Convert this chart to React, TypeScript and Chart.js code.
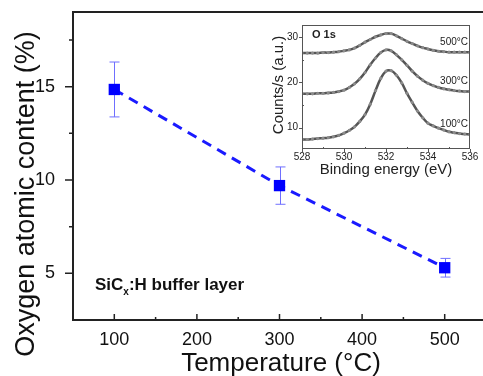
import React, { useEffect, useRef } from "react";
import { Chart, registerables } from "chart.js";

Chart.register(...registerables);

// Main plot data
const TEMPS = [100, 300, 500];
const OXYGEN = [14.85, 9.7, 5.3];
const OXYGEN_ERR = [1.47, 1.0, 0.5];
const X_TICKS = [100, 200, 300, 400, 500];
const X_MINOR = [150, 250, 350, 450];
const Y_TICKS = [5, 10, 15];
const Y_MINOR = [7.5, 12.5, 17.5];

// Inset (O 1s XPS) data
const BE = [528, 528.25, 528.5, 528.75, 529, 529.25, 529.5, 529.75, 530, 530.25, 530.5, 530.75, 531, 531.25, 531.5, 531.75, 532, 532.25, 532.5, 532.75, 533, 533.25, 533.5, 533.75, 534, 534.25, 534.5, 534.75, 535, 535.25, 535.5, 535.75, 536];
const C100 = [7.4, 7.4, 7.5, 7.6, 7.7, 7.8, 8.0, 8.3, 8.8, 9.4, 10.2, 11.4, 12.9, 15.2, 18.2, 20.9, 22.5, 22.6, 21.6, 19.9, 17.6, 15.6, 13.7, 12.2, 11.0, 10.4, 9.9, 9.5, 9.1, 8.9, 8.7, 8.6, 8.5];
const C300 = [17.5, 17.5, 17.5, 17.6, 17.6, 17.7, 17.8, 18.0, 18.3, 18.9, 19.7, 20.8, 22.2, 23.9, 25.4, 26.6, 27.2, 27.0, 26.1, 25.0, 23.8, 22.5, 21.4, 20.5, 19.8, 19.3, 18.9, 18.6, 18.4, 18.2, 18.1, 18.0, 18.0];
const C500 = [26.5, 26.5, 26.5, 26.5, 26.6, 26.6, 26.7, 26.8, 27.0, 27.2, 27.6, 28.2, 28.9, 29.5, 30.1, 30.5, 30.8, 30.8, 30.3, 29.7, 29.1, 28.6, 28.1, 27.7, 27.4, 27.1, 26.9, 26.8, 26.7, 26.7, 26.7, 26.7, 26.7];
const INSET_X_TICKS = [528, 530, 532, 534, 536];
const INSET_X_MINOR = [529, 531, 533, 535];
const INSET_Y_TICKS = [10, 20, 30];
const INSET_Y_MINOR = [15, 25];
const INSET_LABELS = ["100°C", "300°C", "500°C"];

const FONT = "'Liberation Sans', Arial, Helvetica, sans-serif";

const fixSize = (w: number | null, h: number | null) => (s: any) => {
  if (w !== null) s.width = w;
  if (h !== null) s.height = h;
  s.paddingTop = 0;
  s.paddingBottom = 0;
  s.paddingLeft = 0;
  s.paddingRight = 0;
};

const mainPlugin = {
  id: "mainDecor",
  beforeDatasetsDraw(chart: any) {
    const { ctx, scales } = chart;
    const xs = scales.x, ys = scales.y;
    ctx.save();
    ctx.strokeStyle = "#6f6fff";
    ctx.lineWidth = 1;
    TEMPS.forEach((t, i) => {
      const x = Math.round(xs.getPixelForValue(t)) + 0.5;
      const y1 = ys.getPixelForValue(OXYGEN[i] + OXYGEN_ERR[i]);
      const y2 = ys.getPixelForValue(OXYGEN[i] - OXYGEN_ERR[i]);
      ctx.beginPath();
      ctx.moveTo(x, y1);
      ctx.lineTo(x, y2);
      ctx.moveTo(x - 5, y1);
      ctx.lineTo(x + 5, y1);
      ctx.moveTo(x - 5, y2);
      ctx.lineTo(x + 5, y2);
      ctx.stroke();
    });
    ctx.restore();
  },
  afterDraw(chart: any) {
    const { ctx, scales, chartArea } = chart;
    const xs = scales.x, ys = scales.y;
    const { left, right, top, bottom } = chartArea;
    ctx.save();
    ctx.strokeStyle = "#222";
    ctx.lineWidth = 2;
    ctx.beginPath();
    ctx.moveTo(left, top);
    ctx.lineTo(right, top);
    ctx.lineTo(right, bottom);
    ctx.lineTo(left, bottom);
    ctx.closePath();
    ctx.stroke();
    ctx.lineWidth = 1.5;
    ctx.beginPath();
    Y_TICKS.forEach((v) => {
      const y = ys.getPixelForValue(v);
      ctx.moveTo(left - 8, y);
      ctx.lineTo(left, y);
    });
    Y_MINOR.forEach((v) => {
      const y = ys.getPixelForValue(v);
      ctx.moveTo(left - 4, y);
      ctx.lineTo(left, y);
    });
    X_TICKS.forEach((v) => {
      const x = xs.getPixelForValue(v);
      ctx.moveTo(x, bottom);
      ctx.lineTo(x, bottom - 6);
    });
    X_MINOR.forEach((v) => {
      const x = xs.getPixelForValue(v);
      ctx.moveTo(x, bottom);
      ctx.lineTo(x, bottom - 3);
    });
    ctx.stroke();

    ctx.fillStyle = "#111";
    ctx.textAlign = "center";
    ctx.textBaseline = "middle";
    ctx.font = `26px ${FONT}`;
    ctx.fillText("Temperature (°C)", 281, 364);
    ctx.save();
    ctx.translate(27, 194);
    ctx.rotate(-Math.PI / 2);
    ctx.font = `27px ${FONT}`;
    ctx.fillText("Oxygen atomic content (%)", 0, 0);
    ctx.restore();

    // annotation
    ctx.textAlign = "left";
    ctx.textBaseline = "alphabetic";
    ctx.font = `bold 17px ${FONT}`;
    let x = 95;
    const base = 290;
    ctx.fillText("SiC", x, base);
    x += ctx.measureText("SiC").width;
    ctx.font = `bold 10px ${FONT}`;
    ctx.fillText("x", x, base + 5);
    x += ctx.measureText("x").width;
    ctx.font = `bold 17px ${FONT}`;
    ctx.fillText(":H buffer layer", x, base);
    ctx.restore();
  },
};

const insetPlugin = {
  id: "insetDecor",
  afterDraw(chart: any) {
    const { ctx, scales, chartArea } = chart;
    const xs = scales.x, ys = scales.y;
    const { left, right, top, bottom } = chartArea;
    ctx.save();
    ctx.strokeStyle = "#555";
    ctx.lineWidth = 1;
    ctx.strokeRect(left + 0.5, top + 0.5, right - left - 1, bottom - top - 1);
    ctx.beginPath();
    INSET_Y_TICKS.forEach((v) => {
      const y = Math.round(ys.getPixelForValue(v)) + 0.5;
      ctx.moveTo(left - 3, y);
      ctx.lineTo(left, y);
    });
    INSET_Y_MINOR.forEach((v) => {
      const y = Math.round(ys.getPixelForValue(v)) + 0.5;
      ctx.moveTo(left, y);
      ctx.lineTo(left + 2, y);
    });
    INSET_X_TICKS.forEach((v) => {
      const x = Math.round(xs.getPixelForValue(v)) + 0.5;
      ctx.moveTo(x, bottom);
      ctx.lineTo(x, bottom + 3);
    });
    INSET_X_MINOR.forEach((v) => {
      const x = Math.round(xs.getPixelForValue(v)) + 0.5;
      ctx.moveTo(x, bottom);
      ctx.lineTo(x, bottom - 2);
    });
    ctx.stroke();

    ctx.fillStyle = "#222";
    ctx.textBaseline = "middle";
    ctx.textAlign = "center";
    ctx.font = `15px ${FONT}`;
    ctx.fillText("Binding energy (eV)", 136, 155);
    ctx.save();
    ctx.translate(29, 70);
    ctx.rotate(-Math.PI / 2);
    ctx.fillText("Counts/s (a.u.)", 0, 0);
    ctx.restore();

    ctx.textAlign = "left";
    ctx.font = `bold 11px ${FONT}`;
    ctx.fillText("O 1s", 62, 20);

    ctx.textAlign = "right";
    ctx.font = `10px ${FONT}`;
    const ly = [109, 66.7, 27.3];
    INSET_LABELS.forEach((t, i) => ctx.fillText(t, 218, ly[i]));
    ctx.restore();
  },
};

export default function App() {
  const mainRef = useRef<HTMLCanvasElement>(null);
  const insetRef = useRef<HTMLCanvasElement>(null);

  useEffect(() => {
    const main = new Chart(mainRef.current!, {
      type: "line",
      data: {
        datasets: [
          {
            data: TEMPS.map((t, i) => ({ x: t, y: OXYGEN[i] })),
            borderColor: "#1a1aff",
            borderWidth: 3,
            borderDash: [10, 7],
            pointStyle: "rect",
            pointRadius: 8,
            pointBackgroundColor: "#0000ff",
            pointBorderWidth: 0,
            fill: false,
          },
        ],
      },
      options: {
        responsive: false,
        animation: false,
        events: [],
        layout: { padding: { top: 12, right: 9, left: 0, bottom: 0 } },
        plugins: { legend: { display: false }, tooltip: { enabled: false } },
        scales: {
          x: {
            type: "linear",
            min: 50,
            max: 550,
            afterFit: fixSize(null, 56),
            afterBuildTicks: (s: any) => { s.ticks = X_TICKS.map((v) => ({ value: v })); },
            grid: { display: false, drawTicks: false },
            border: { display: false },
            ticks: { color: "#111", font: { family: FONT, size: 18 }, padding: 9, autoSkip: false, maxRotation: 0 },
          },
          y: {
            type: "linear",
            min: 2.5,
            max: 19,
            afterFit: fixSize(73, null),
            afterBuildTicks: (s: any) => { s.ticks = Y_TICKS.map((v) => ({ value: v })); },
            grid: { display: false, drawTicks: false },
            border: { display: false },
            ticks: { color: "#111", font: { family: FONT, size: 18 }, padding: 18 },
          },
        },
      },
      plugins: [mainPlugin],
    } as any);

    const mk = (arr: number[]) => BE.map((b, i) => ({ x: b, y: arr[i] }));
    const ds = (arr: number[]) => ({
      data: mk(arr),
      borderColor: "#555555",
      borderWidth: 2.5,
      pointRadius: 1.6,
      pointBackgroundColor: "#8c8c8c",
      pointBorderWidth: 0,
      tension: 0.35,
      fill: false,
    });
    const inset = new Chart(insetRef.current!, {
      type: "line",
      data: { datasets: [ds(C100), ds(C300), ds(C500)] },
      options: {
        responsive: false,
        animation: false,
        events: [],
        layout: { padding: { top: 10, right: 13, left: 0, bottom: 0 } },
        plugins: { legend: { display: false }, tooltip: { enabled: false } },
        scales: {
          x: {
            type: "linear",
            min: 528,
            max: 536,
            afterFit: fixSize(null, 46),
            afterBuildTicks: (s: any) => { s.ticks = INSET_X_TICKS.map((v) => ({ value: v })); },
            grid: { display: false, drawTicks: false },
            border: { display: false },
            ticks: { color: "#222", font: { family: FONT, size: 10 }, padding: 2, autoSkip: false, maxRotation: 0 },
          },
          y: {
            type: "linear",
            min: 5.3,
            max: 32.7,
            afterFit: fixSize(52, null),
            afterBuildTicks: (s: any) => { s.ticks = INSET_Y_TICKS.map((v) => ({ value: v })); },
            grid: { display: false, drawTicks: false },
            border: { display: false },
            ticks: { color: "#222", font: { family: FONT, size: 10 }, padding: 4 },
          },
        },
      },
      plugins: [insetPlugin],
    } as any);

    return () => {
      main.destroy();
      inset.destroy();
    };
  }, []);

  return (
    <div style={{ position: "fixed", left: 0, top: 0, width: 483, height: 376, overflow: "hidden", background: "#fff" }}>
      <canvas ref={mainRef} width={495} height={376} style={{ position: "absolute", left: 0, top: 0, width: 495, height: 376 }} />
      <canvas ref={insetRef} width={233} height={180} style={{ position: "absolute", left: 250, top: 15, width: 233, height: 180 }} />
    </div>
  );
}
